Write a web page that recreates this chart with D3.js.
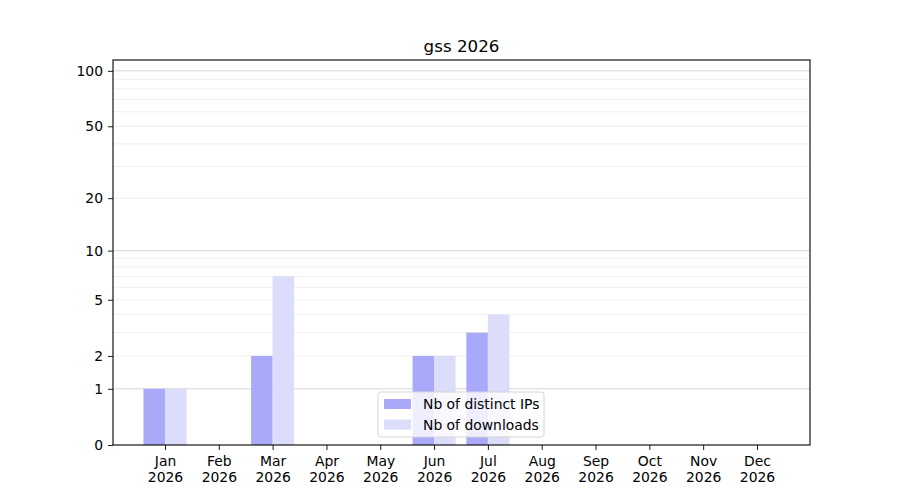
<!DOCTYPE html>
<html>
<head>
<meta charset="utf-8">
<script src="https://cdn.jsdelivr.net/npm/d3@7"></script>
<style>
  body { margin: 0; background: #fff; }
  text { font-family: "DejaVu Sans", sans-serif; fill: #000; }
</style>
</head>
<body>
<script>
  // data
  var months = ["Jan", "Feb", "Mar", "Apr", "May", "Jun", "Jul", "Aug", "Sep", "Oct", "Nov", "Dec"];
  var year = "2026";
  var distinctIps = [1, 0, 2, 0, 0, 2, 3, 0, 0, 0, 0, 0];
  var downloads = [1, 0, 7, 0, 0, 2, 4, 0, 0, 0, 0, 0];
  var yTicks = [0, 1, 2, 5, 10, 20, 50, 100];
  var majorGrid = [1, 10, 100];
  var minorGrid = [2, 3, 4, 5, 6, 7, 8, 9, 20, 30, 40, 50, 60, 70, 80, 90];
  var seriesNames = ["Nb of distinct IPs", "Nb of downloads"];
  var seriesColors = ["#a9a9f9", "#dcdcfb"];

  var W = 900, H = 500;
  var margin = { top: 60, right: 90, bottom: 55, left: 113 },
    width = W - margin.left - margin.right,
    height = H - margin.top - margin.bottom;

  var svg = d3.select("body").append("svg")
    .attr("width", W)
    .attr("height", H);

  var g = svg.append("g")
    .attr("transform", "translate(" + margin.left + "," + margin.top + ")");

  // x: month index, y: log(1+x)
  var xRange = d3.scaleLinear().domain([-0.966, 11.985]).range([0, width]);
  var yRange = d3.scaleSymlog().constant(1).domain([0, 114.5]).range([height, 0]);
  var barW = 0.4;

  // grid
  g.selectAll("line.minor")
    .data(minorGrid)
    .enter().append("line")
    .attr("class", "minor")
    .attr("x1", 0).attr("x2", width)
    .attr("y1", function (d) { return yRange(d); })
    .attr("y2", function (d) { return yRange(d); })
    .attr("stroke", "#ebebeb").attr("stroke-width", 0.8);

  g.selectAll("line.major")
    .data(majorGrid)
    .enter().append("line")
    .attr("class", "major")
    .attr("x1", 0).attr("x2", width)
    .attr("y1", function (d) { return yRange(d); })
    .attr("y2", function (d) { return yRange(d); })
    .attr("stroke", "#cbcbcb").attr("stroke-width", 0.8);

  // bars
  var series = [distinctIps, downloads];
  series.forEach(function (vals, s) {
    g.selectAll("rect.s" + s)
      .data(vals)
      .enter().append("rect")
      .attr("class", "s" + s)
      .attr("x", function (d, i) { return xRange(i - barW + s * barW); })
      .attr("width", xRange(barW) - xRange(0))
      .attr("y", function (d) { return yRange(d); })
      .attr("height", function (d) { return height - yRange(d); })
      .attr("fill", seriesColors[s]);
  });

  // axes
  var yAxis = d3.axisLeft(yRange).tickValues(yTicks).tickFormat(d3.format("d")).tickSize(5).tickPadding(5);
  var gy = g.append("g").call(yAxis);
  gy.select(".domain").remove();
  gy.selectAll("text").style("font-size", "13.9px");
  gy.selectAll("line").attr("stroke", "#000").attr("stroke-width", 0.9);

  var xAxis = d3.axisBottom(xRange).tickValues(d3.range(12)).tickSize(5).tickFormat("");
  var gx = g.append("g").attr("transform", "translate(0," + height + ")").call(xAxis);
  gx.select(".domain").remove();
  gx.selectAll("line").attr("stroke", "#000").attr("stroke-width", 0.9);
  var lbl = gx.selectAll(".tick").append("text")
    .attr("text-anchor", "middle")
    .style("font-size", "13.9px");
  lbl.append("tspan").attr("x", 0).attr("y", 21).text(function (d) { return months[d]; });
  lbl.append("tspan").attr("x", 0).attr("y", 37).text(year);

  // frame
  g.append("rect")
    .attr("width", width).attr("height", height)
    .attr("fill", "none").attr("stroke", "#000").attr("stroke-width", 1.1);

  // title
  svg.append("text")
    .attr("x", margin.left + width / 2)
    .attr("y", margin.top - 8)
    .attr("text-anchor", "middle")
    .style("font-size", "16.7px")
    .text("gss " + year);

  // legend
  var lg = svg.append("g").attr("transform", "translate(378,392)");
  lg.append("rect")
    .attr("width", 166).attr("height", 45)
    .attr("rx", 3)
    .attr("fill", "#fff").attr("fill-opacity", 0.8)
    .attr("stroke", "#d5d5d5");
  seriesNames.forEach(function (name, i) {
    lg.append("rect")
      .attr("x", 6).attr("y", 7 + i * 20.5)
      .attr("width", 27).attr("height", 10)
      .attr("fill", seriesColors[i]);
    lg.append("text")
      .attr("x", 45).attr("y", 17 + i * 20.5)
      .style("font-size", "13.9px")
      .text(name);
  });
</script>
</body>
</html>
